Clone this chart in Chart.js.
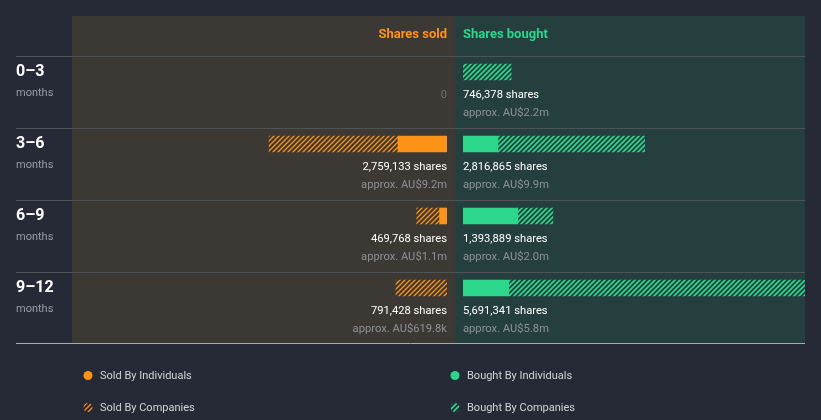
<!DOCTYPE html>
<html>
<head>
<meta charset="utf-8">
<script src="https://cdn.jsdelivr.net/npm/chart.js@4.4.0/dist/chart.umd.min.js"></script>
<style>
  html, body { margin: 0; padding: 0; background: #262a36; }
  #wrap { position: relative; width: 821px; height: 420px; overflow: hidden; }
  #wrap canvas { position: absolute; left: 0; top: 0; }
</style>
</head>
<body>
<div id="wrap">
  <canvas id="sold" width="821" height="420"></canvas>
  <canvas id="bought" width="821" height="420"></canvas>
</div>
<script>
// ---- data ----
const categories = ['0–3', '3–6', '6–9', '9–12'];
const soldIndividuals = [0, 760000, 115000, 0];
const soldCompanies = [0, 1999133, 354768, 791428];
const boughtIndividuals = [0, 540000, 850000, 710000];
const boughtCompanies = [746378, 2276865, 543889, 4981341];
const soldTotals = [0, 2759133, 469768, 791428];
const soldValues = ['', 'AU$9.2m', 'AU$1.1m', 'AU$619.8k'];
const boughtTotals = [746378, 2816865, 1393889, 5691341];
const boughtValues = ['AU$2.2m', 'AU$9.9m', 'AU$2.0m', 'AU$5.8m'];

// ---- styles ----
const BG = '#262a36';
const SOLD_PANEL = '#3c3834';
const BOUGHT_PANEL = '#253f3f';
const ORANGE = '#ff9317';
const GREEN = '#2cd68a';
const FONT = 'Roboto, "Noto Sans", sans-serif';

function hatch(color, lw) {
  const s = 5;
  const c = document.createElement('canvas');
  c.width = s; c.height = s;
  const g = c.getContext('2d');
  g.strokeStyle = color;
  g.lineWidth = lw;
  g.beginPath();
  g.moveTo(-1, s + 1); g.lineTo(s + 1, -1);
  g.moveTo(-1, 1); g.lineTo(1, -1);
  g.moveTo(s - 1, s + 1); g.lineTo(s + 1, s - 1);
  g.stroke();
  return g.createPattern(c, 'repeat');
}
const orangeHatch = hatch(ORANGE, 1.3);
const greenHatch = hatch(GREEN, 1.7);

const fmt = n => n.toLocaleString('en-US');
const nz = arr => arr.map(v => (v === 0 ? null : v));

const clipOpt = { left: 0, top: 20, right: 0, bottom: 20 };

const backgroundPlugin = {
  id: 'bgPanels',
  beforeDraw(chart) {
    const ctx = chart.ctx;
    ctx.save();
    ctx.fillStyle = BG;
    ctx.fillRect(0, 0, 821, 420);
    ctx.fillStyle = SOLD_PANEL;
    ctx.fillRect(72, 16, 383, 327);
    ctx.fillStyle = BOUGHT_PANEL;
    ctx.fillRect(455, 16, 350, 327);
    // row separators
    const y = chart.scales.y;
    ctx.strokeStyle = '#4f5257';
    ctx.lineWidth = 1;
    for (let i = 0; i < categories.length; i++) {
      const top = Math.round(y.getPixelForValue(i) - 16) + 0.5;
      ctx.beginPath(); ctx.moveTo(16, top); ctx.lineTo(805, top); ctx.stroke();
    }
    ctx.strokeStyle = '#a9abaf';
    ctx.beginPath(); ctx.moveTo(16, 343.5); ctx.lineTo(805, 343.5); ctx.stroke();

    // headers
    ctx.font = 'bold 13px ' + FONT;
    ctx.textBaseline = 'middle';
    ctx.textAlign = 'right';
    ctx.fillStyle = ORANGE;
    ctx.fillText('Shares sold', 447, 35);
    ctx.textAlign = 'left';
    ctx.fillStyle = GREEN;
    ctx.fillText('Shares bought', 463, 35);

    // row labels
    for (let i = 0; i < categories.length; i++) {
      const c = y.getPixelForValue(i);
      ctx.textAlign = 'left';
      ctx.fillStyle = '#ffffff';
      ctx.font = 'bold 16px ' + FONT;
      ctx.fillText(categories[i], 16, c);
      ctx.fillStyle = '#9a9ea4';
      ctx.font = '11px ' + FONT;
      ctx.fillText('months', 16, c + 21);
    }

    // legend
    const items = [
      [88, 376, ORANGE, 'Sold By Individuals'],
      [455, 376, GREEN, 'Bought By Individuals'],
      [88, 408, orangeHatch, 'Sold By Companies'],
      [455, 408, greenHatch, 'Bought By Companies']
    ];
    ctx.font = '11px ' + FONT;
    for (const [lx, ly, fill, txt] of items) {
      ctx.beginPath();
      ctx.arc(lx, ly - 0.5, 4.5, 0, Math.PI * 2);
      ctx.fillStyle = fill;
      ctx.fill();
      ctx.fillStyle = '#d2d4d8';
      ctx.textAlign = 'left';
      ctx.fillText(txt, lx + 12, ly);
    }
    ctx.restore();
  }
};

function labelPlugin(side) {
  return {
    id: 'labels_' + side,
    afterDatasetsDraw(chart) {
      const ctx = chart.ctx;
      const y = chart.scales.y;
      ctx.save();
      ctx.textBaseline = 'middle';
      for (let i = 0; i < categories.length; i++) {
        const c = y.getPixelForValue(i);
        const total = side === 'sold' ? soldTotals[i] : boughtTotals[i];
        const val = side === 'sold' ? soldValues[i] : boughtValues[i];
        const x = side === 'sold' ? 447 : 463;
        ctx.textAlign = side === 'sold' ? 'right' : 'left';
        ctx.font = '11.2px ' + FONT;
        if (total === 0) {
          ctx.fillStyle = '#75726e';
          ctx.fillText('0', x, c + 23);
          continue;
        }
        ctx.fillStyle = '#ffffff';
        ctx.fillText(fmt(total) + ' shares', x, c + 23);
        ctx.fillStyle = '#8e9194';
        ctx.fillText('approx. ' + val, x, c + 41);
      }
      ctx.restore();
    }
  };
}

function makeChart(id, side) {
  const isSold = side === 'sold';
  return new Chart(document.getElementById(id), {
    type: 'bar',
    data: {
      labels: categories,
      datasets: [
        {
          label: isSold ? 'Sold By Individuals' : 'Bought By Individuals',
          data: nz(isSold ? soldIndividuals : boughtIndividuals),
          backgroundColor: isSold ? ORANGE : GREEN,
          barThickness: 16,
          clip: clipOpt
        },
        {
          label: isSold ? 'Sold By Companies' : 'Bought By Companies',
          data: nz(isSold ? soldCompanies : boughtCompanies),
          backgroundColor: isSold ? orangeHatch : greenHatch,
          barThickness: 16,
          clip: clipOpt
        }
      ]
    },
    options: {
      indexAxis: 'y',
      responsive: false,
      animation: false,
      events: [],
      layout: {
        padding: isSold
          ? { left: 72, right: 374, top: 72, bottom: 132 }
          : { left: 463, right: 16, top: 72, bottom: 132 }
      },
      scales: {
        x: {
          display: false,
          stacked: true,
          min: 0,
          max: isSold ? 5814000 : 5302000,
          reverse: isSold
        },
        y: {
          display: false,
          stacked: true,
          offset: false
        }
      },
      plugins: {
        legend: { display: false },
        tooltip: { enabled: false }
      }
    },
    plugins: isSold ? [backgroundPlugin, labelPlugin('sold')] : [labelPlugin('bought')]
  });
}

makeChart('sold', 'sold');
makeChart('bought', 'bought');
</script>
</body>
</html>
